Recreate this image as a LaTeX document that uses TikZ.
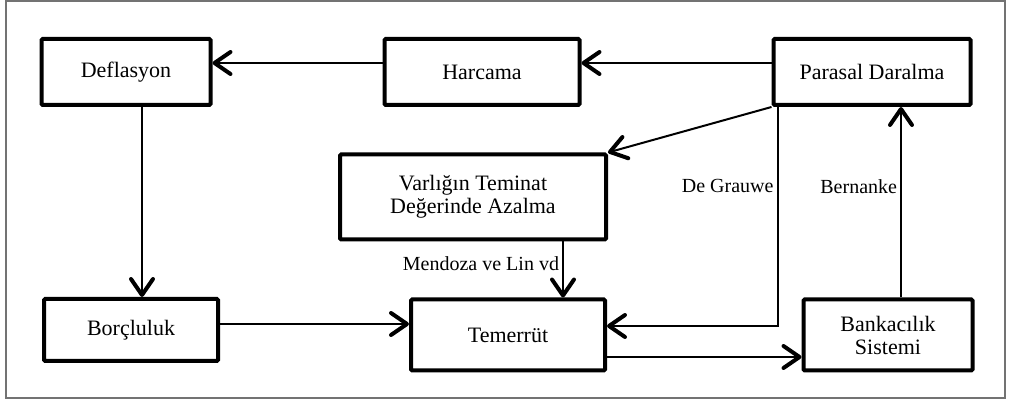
\documentclass[tikz,border=0pt]{standalone}
\usepackage{fontspec}
\setmainfont{Liberation Serif}
\usetikzlibrary{arrows.meta,calc}

\begin{document}
\begin{tikzpicture}[
  x=0.5pt,y=-0.5pt,
  box/.style={rectangle,draw,line width=2pt,rounded corners=0.6pt,align=center,
    inner sep=2pt,font=\fontsize{11}{11.5}\selectfont,fill=white},
  lbl/.style={font=\fontsize{10}{11}\selectfont,inner sep=1.5pt},
  arr/.style={-{Straight Barb[length=8pt,width=11pt,line width=2pt,round]},line width=1pt}
]
\useasboundingbox (0,0) rectangle (1009,400);
\draw[black!55,line width=0.6pt] (6,1) rectangle (1005,398);

\node[box,minimum width=84.5pt,minimum height=33pt] (defl) at (126,72) {Deflasyon};
\node[box,minimum width=97.5pt,minimum height=33pt] (harc) at (482,72) {Harcama};
\node[box,minimum width=98.5pt,minimum height=33pt] (para) at (872,72) {Parasal Daralma};
\node[box,minimum width=133pt,minimum height=42.5pt] (varl) at (473,197) {Varlığın Teminat\\Değerinde Azalma};
\node[box,minimum width=87pt,minimum height=31pt] (borc) at (131,330) {Borçluluk};
\node[box,minimum width=97pt,minimum height=35.5pt] (teme) at (508,335) {Temerrüt};
\node[box,minimum width=84.5pt,minimum height=35.5pt] (bank) at (888,335) {Bankacılık\\Sistemi};

% helper points
\coordinate (defls) at ([xshift=8pt]defl.south);
\coordinate (varls) at ([xshift=45pt]varl.south);
\coordinate (borce) at ([yshift=3pt]borc.east);
\coordinate (tlow) at ([yshift=-11pt]teme.east);
\coordinate (thigh) at ([yshift=4.5pt]teme.east);
\coordinate (parsw) at ([xshift=3pt]para.south west);
\coordinate (bankn) at ([xshift=6.5pt]bank.north);

\draw[arr] ([yshift=4.5pt]para.west) -- ([yshift=4.5pt]harc.east);
\draw[arr] ([yshift=4.5pt]harc.west) -- ([yshift=4.5pt]defl.east);
\draw[arr] (defls) -- (defls |- borc.north);
\draw[arr] (borce) -- (borce -| teme.west);
\draw[arr] (para.south west) -- (varl.north east);
\draw[arr] (varls) -- (varls |- teme.north)
  node[lbl,pos=0.4,left] {Mendoza ve Lin vd};
\draw[arr] (parsw |- para.south) |- (thigh)
  node[lbl,pos=0.18,left] {De Grauwe};
\draw[arr] (bankn) -- (bankn |- para.south)
  node[lbl,pos=0.58,left] {Bernanke};
\draw[arr] (tlow) -- (tlow -| bank.west);
\end{tikzpicture}
\end{document}
